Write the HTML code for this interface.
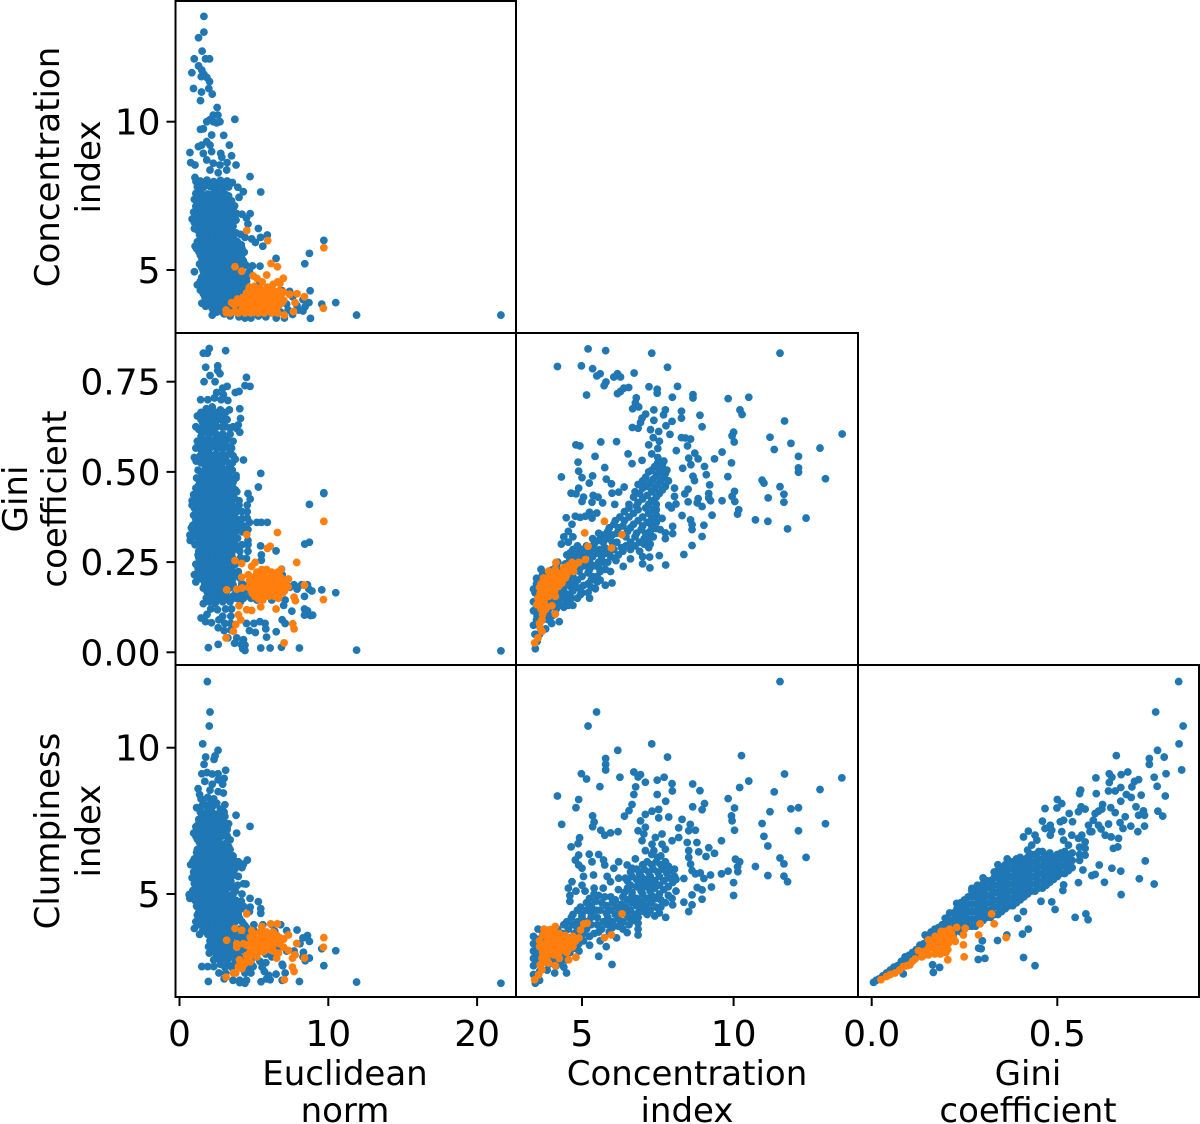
<!DOCTYPE html>
<html lang="en">
<head>
<meta charset="utf-8">
<title>Morphology index pair plot</title>
<style>
html,body{margin:0;padding:0;background:#fff;}
svg{display:block;}
text{font-family:"DejaVu Sans","Liberation Sans",sans-serif;fill:#000;}
.tick-text{font-size:36px;}
.title-text{font-size:34px;}
</style>
</head>
<body>
<svg id="chart" width="1200" height="1124" viewBox="0 0 1200 1124" xmlns="http://www.w3.org/2000/svg"></svg>
<script>
const euclidTicks=[0,10,20];
const concXTicks=[5,10];
const giniXTicks=[0,0.5];
const concYTicks=[5,10];
const giniYTicks=[0,0.25,0.5,0.75];
const clumpYTicks=[5,10];
const euclidTickLabels=["0","10","20"];
const concXTickLabels=["5","10"];
const giniXTickLabels=["0.0","0.5"];
const concYTickLabels=["5","10"];
const giniYTickLabels=["0.00","0.25","0.50","0.75"];
const clumpYTickLabels=["5","10"];

const euclidConcBlue=[[1.64,13.55],[1.64,13.02],[1.28,12.83],[1.52,12.38],[0.99,12.12],[1.75,12.12],[2.02,12.12],[1.28,11.88],[0.83,11.65],[1.5,11.74],[1.64,11.6],[1.84,11.49],[1.46,11.52],[2.02,11.35],[0.94,11.12],[1.48,11],[1.97,11.12],[2.2,10.93],[1.41,10.71],[2.53,10.48],[2.58,10.22],[2.27,10.22],[2.05,10.07],[1.83,10],[2.72,10],[2.27,10],[2.5,9.96],[3.72,10.08],[1.41,9.74],[1.6,9.76],[2.16,9.55],[2.97,9.54],[3.35,9.21],[0.7,8.96],[0.75,8.62],[1.27,9.16],[1.49,9.21],[1.83,9.33],[2.05,9.21],[1.6,8.93],[2.16,8.99],[2.77,8.93],[2.84,8.8],[3.5,8.85],[1.04,8.54],[1.83,8.71],[2.27,8.6],[2.72,8.54],[3.2,8.62],[3.8,8.54],[3.17,8.37],[2.05,8.37],[2.6,8.28],[4.74,8.15],[1.04,8.12],[1.11,7.98],[5.46,7.63],[3.92,7.79],[4.29,7.64],[4,7.45],
[1.4,8],[1.85,8.03],[2.3,7.98],[2.75,8.02],[3.2,8],[3.55,7.95],[1.2,7.8],[1.6,7.78],[2.05,7.82],[2.5,7.79],[2.95,7.77],[3.3,7.8],[1.1,7.58],[1.45,7.6],[1.9,7.56],[2.3,7.61],[2.7,7.58],[3.1,7.55],[1,7.38],[1.35,7.35],[1.8,7.4],[2.2,7.36],[2.65,7.38],[3.05,7.35],[3.5,7.33],[1.1,7.15],[1.55,7.18],[2,7.14],[2.45,7.17],[2.9,7.15],[3.3,7.12],[3.7,7.16],[0.95,6.95],[1.3,6.92],[1.75,6.96],[2.2,6.93],[2.65,6.95],[3.1,6.92],[3.5,6.95],[3.85,6.9],[4.2,6.88],[4.75,6.9],[4.5,6.75],[0.85,6.72],[1.15,6.7],[1.6,6.74],[2.05,6.7],[2.5,6.73],[2.95,6.7],[3.4,6.72],[3.8,6.68],[4.6,6.55],[1.25,6.5],[1.8,6.52],[2.25,6.48],[2.7,6.5],[3.15,6.52],[3.6,6.48],[1.2,6.35],[5.3,6.4],[1.55,6.28],[2,6.3],[2.45,6.27],[2.9,6.3],[3.35,6.28],[3.8,6.25],[4.1,6.2],[5.9,6.18],[4.4,6.1],[4.85,6.05],[5.1,5.93],[5.45,6.1],[5.6,5.8],[1.4,6.08],[1.85,6.06],[2.3,6.08],[2.75,6.05],[3.2,6.08],[3.65,6.05],[1.05,5.8],[1.5,5.85],[1.95,5.82],[2.4,5.86],[2.85,5.83],[3.3,5.85],[3.75,5.82],[4.15,5.85],[1.3,5.62],[1.75,5.6],[2.2,5.64],[2.65,5.6],[3.1,5.63],[3.55,5.6],[4,5.62],[4.35,5.6],[1.5,5.4],[1.95,5.42],[2.4,5.38],[2.85,5.41],[3.3,5.38],[3.75,5.42],[4.2,5.38],[6.49,5.39],[1.35,5.2],[1.75,5.18],[2.2,5.2],[2.65,5.17],[3.1,5.2],[3.55,5.18],[4,5.2],[4.45,5.17],[5.41,5.13],[4.9,5.14],[8.42,5.21],[1,4.94],[1.6,4.96],[2,4.98],[2.45,4.95],[2.9,4.97],[3.35,4.95],[3.8,4.98],[4.7,4.95],[1.5,4.75],[1.85,4.73],[2.25,4.76],[2.7,4.72],[3.15,4.75],[3.6,4.73],[4.05,4.75],[4.5,4.72],[1.2,4.5],[1.6,4.52],[2.05,4.5],[2.5,4.54],[2.95,4.5],[3.4,4.52],[3.85,4.5],[4.3,4.53],[5.4,4.55],[1.4,4.32],[1.85,4.3],[2.3,4.33],[2.75,4.3],[3.2,4.32],[3.65,4.3],[4.1,4.32],[6.9,4.3],[7.4,4.28],[8.78,4.3],[1.7,4.1],[2.1,4.12],[2.55,4.08],[3,4.1],[3.45,4.12],[3.9,4.08],[7.6,4.1],[8.3,4],[1.5,3.88],[1.95,3.9],[2.4,3.86],[2.85,3.9],[3.3,3.88],[3.75,3.85],[7.2,3.85],[7.9,3.8],[8.44,3.76],[8.7,3.9],[9.56,3.85],[10.5,3.9],[2.2,3.7],[2.65,3.68],[3.1,3.7],[6.5,3.7],[7.3,3.65],[8,3.65],[8.3,3.62],[2.2,3.48],[3,3.52],[3.4,3.45],[4,3.42],[4.4,3.38],[4.8,3.38],[5.3,3.45],[5.8,3.42],[6.5,3.38],[7.05,3.38],[7.6,3.5],[8.8,3.37],[11.9,3.48],[21.6,3.48],[9.7,6],[8.73,5.56],
[1.6,7.9],[2.05,7.9],[2.5,7.9],[2.95,7.9],[3.4,7.9],[1.25,7.5],[1.7,7.5],[2.1,7.5],[2.5,7.5],[2.9,7.5],[3.3,7.5],[1.2,7.25],[1.6,7.25],[2,7.25],[2.45,7.25],[2.85,7.25],[3.25,7.25],[1.15,7.05],[1.55,7.05],[1.95,7.05],[2.4,7.05],[2.8,7.05],[3.25,7.05],[3.6,7.05],[1.1,6.82],[1.5,6.82],[1.95,6.82],[2.4,6.82],[2.85,6.82],[3.3,6.82],[3.7,6.82],[1,6.6],[1.4,6.6],[1.85,6.6],[2.3,6.6],[2.75,6.6],[3.2,6.6],[3.6,6.6],[1,6.4],[1.5,6.4],[2,6.4],[2.5,6.4],[2.9,6.4],[3.4,6.4],[1.35,6.18],[1.75,6.18],[2.2,6.18],[2.65,6.18],[3.1,6.18],[3.55,6.18],[1.2,5.95],[1.65,5.95],[2.1,5.95],[2.55,5.95],[3,5.95],[3.45,5.95],[3.9,5.95],[1.15,5.72],[1.55,5.72],[2,5.72],[2.4,5.72],[2.85,5.72],[3.35,5.72],[3.8,5.72],[4.2,5.72],[1.4,5.5],[1.85,5.5],[2.3,5.5],[2.75,5.5],[3.2,5.5],[3.65,5.5],[4.1,5.5],[1.6,5.3],[2,5.3],[2.5,5.3],[2.95,5.3],[3.4,5.3],[3.85,5.3],[4.3,5.3],[1.5,5.08],[1.95,5.08],[2.4,5.08],[2.85,5.08],[3.3,5.08],[3.75,5.08],[4.2,5.08],[1.65,4.85],[2.1,4.85],[2.55,4.85],[3,4.85],[3.45,4.85],[3.9,4.85],[4.35,4.85],[1.4,4.62],[1.8,4.62],[2.25,4.62],[2.7,4.62],[3.15,4.62],[3.6,4.62],[4.05,4.62],[4.5,4.62],[1.55,4.4],[2,4.4],[2.45,4.4],[2.9,4.4],[3.35,4.4],[3.8,4.4],[4.2,4.4],[1.6,4.2],[2,4.2],[2.5,4.2],[2.95,4.2],[3.4,4.2],[3.85,4.2],[4.4,4.2],[4.8,4.2],[1.85,3.98],[2.3,3.98],[2.75,3.98],[3.2,3.98],[3.65,3.98],[4.1,3.98],[4.5,3.98],[1.75,3.78],[2.2,3.78],[2.65,3.78],[3.1,3.78],[3.55,3.78],[4,3.78],[2.5,3.58],[2.9,3.58],[3.35,3.58],[3.8,3.58],[4.2,3.58],[4.6,3.58],[5.2,3.58],[5.8,3.58],[6.2,3.58],[6.8,3.58]];
const euclidConcOrange=[[4.52,6.33],[5.93,5.99],[9.7,5.75],[6.15,5.22],[6.58,5.11],[3.73,5.11],[4.18,4.96],[8.4,4.1],[9.67,3.71],[7.77,3.9],[7.66,3.6],[7.05,3.48],[3.13,3.65],[3.15,3.56],[3.73,3.6],[6.98,4.72],[5.86,4.83],[4.95,4.8],[5.2,4.72],[5.55,4.6],[6.6,4.6],[6.3,4.52],[4.7,4.42],[5.05,4.45],[5.4,4.38],[5.9,4.42],[4.5,4.22],[4.9,4.2],[5.3,4.25],[5.7,4.18],[6.1,4.22],[6.5,4.2],[7,4.25],[7.4,4.18],[7.9,4.2],[3.9,4.02],[4.25,4.05],[4.6,4],[5,4.03],[5.4,3.98],[5.8,4.02],[6.2,4],[6.6,4.04],[7,3.98],[3.7,3.82],[4.3,3.84],[4.7,3.8],[5.1,3.84],[5.5,3.8],[5.9,3.84],[6.3,3.8],[6.7,3.82],[4.2,3.68],[4.6,3.65],[5.1,3.62],[5.5,3.66],[5.9,3.62],[6.4,3.65],
[4.7,4.3],[5.1,4.3],[5.5,4.3],[5.9,4.3],[6.3,4.3],[6.7,4.3],[4.4,4.1],[4.8,4.1],[5.2,4.1],[5.6,4.1],[6,4.1],[6.4,4.1],[6.8,4.1],[4,3.9],[4.45,3.9],[4.9,3.9],[5.3,3.9],[5.7,3.9],[6.1,3.9],[6.5,3.9],[6.9,3.9],[3.5,3.9],[4.5,3.72],[4.9,3.72],[5.3,3.72],[5.7,3.72],[6.1,3.72],[6.5,3.72],[3.4,3.55],[3.95,3.55],[4.4,3.55],[4.8,3.55],[5.3,3.55],[5.7,3.55],[6.2,3.55],[6.6,3.55],[6.75,4.55]];

const euclidGiniBlue=[[2,0.842],[1.6,0.829],[1.87,0.829],[3.1,0.836],[1.76,0.79],[2.57,0.794],[2.57,0.781],[2.72,0.772],[2.05,0.767],[2.39,0.75],[1.65,0.75],[4.5,0.762],[4.4,0.739],[4.74,0.737],[3.2,0.737],[2.9,0.732],[2.5,0.72],[2.95,0.714],[3.75,0.72],[4,0.723],[1.42,0.7],[1.9,0.7],[2.35,0.705],[2.8,0.7],[3.25,0.698],[2.2,0.68],[1.8,0.675],[2.75,0.672],[4.05,0.675],[3.35,0.672],[3.1,0.665],[1.2,0.655],[1.7,0.655],[2.15,0.652],[2.6,0.656],[3,0.645],[4.1,0.648],[3.95,0.63],[1.55,0.637],[1.95,0.634],[2.4,0.636],[2.85,0.625],[1.3,0.618],[3.4,0.622],[3.85,0.62],[4.05,0.61],[1.75,0.614],[2.2,0.612],[2.65,0.6],[1.45,0.598],[1.95,0.594],[2.4,0.59],[3.2,0.59],[3.6,0.585],[1.35,0.578],[1.8,0.574],[2.25,0.572],[2.7,0.568],[3.25,0.57],[1.5,0.558],[1.95,0.554],[2.45,0.55],[2.9,0.55],[3.4,0.555],[1.7,0.536],[2.2,0.534],[2.65,0.53],[3.1,0.535],[1,0.54],[1.12,0.53],[2.5,0.51],[3.75,0.535],[4.3,0.533],[1.75,0.515],[2.1,0.512],[2.9,0.51],[3.3,0.508],[1.5,0.495],[1.95,0.49],[2.4,0.492],[2.85,0.49],[3.3,0.49],[3.8,0.49],[5.46,0.496],[1.35,0.475],[1.8,0.472],[2.25,0.47],[2.7,0.472],[3.15,0.47],[3.6,0.472],[1.1,0.455],[1.5,0.454],[1.95,0.452],[2.4,0.455],[2.85,0.452],[3.3,0.455],[3.75,0.45],[5.3,0.458],[0.95,0.437],[1.35,0.436],[1.8,0.434],[2.25,0.436],[2.7,0.434],[3.15,0.436],[3.6,0.434],[4.6,0.44],[4.75,0.425],[0.85,0.42],[1.2,0.418],[1.65,0.416],[2.1,0.418],[2.55,0.415],[3,0.418],[3.45,0.415],[4,0.42],[9.7,0.44],[1,0.4],[1.5,0.398],[1.95,0.4],[2.4,0.397],[2.85,0.4],[3.3,0.397],[3.75,0.398],[4.55,0.408],[4.55,0.39],[8.73,0.41],[0.95,0.38],[1.35,0.38],[1.8,0.378],[2.25,0.38],[2.7,0.378],[3.15,0.38],[3.6,0.378],[4.55,0.372],[1.1,0.362],[1.55,0.36],[2,0.362],[2.45,0.36],[2.9,0.362],[3.35,0.358],[3.8,0.36],[4.7,0.36],[4.3,0.35],[0.8,0.345],[1.3,0.342],[1.75,0.344],[2.2,0.342],[2.65,0.344],[3.1,0.342],[3.55,0.342],[4.05,0.345],[4.6,0.34],[5.2,0.36],[5.5,0.36],[5.9,0.36],[0.7,0.325],[1.1,0.325],[1.5,0.325],[1.95,0.324],[2.4,0.326],[2.85,0.324],[3.3,0.326],[3.75,0.322],[0.72,0.31],[1.3,0.306],[1.75,0.306],[2.2,0.308],[2.65,0.306],[3.1,0.308],[3.6,0.305],[4.6,0.31],[1.5,0.288],[1.95,0.29],[2.4,0.288],[2.85,0.29],[3.3,0.288],[3.75,0.288],[4.6,0.298],[8.42,0.3],[8.73,0.305],[1.25,0.27],[1.7,0.27],[2.15,0.272],[2.6,0.27],[3.05,0.27],[3.5,0.272],[4.6,0.28],[5.45,0.295],[5.5,0.27],[6.49,0.281],[1.5,0.252],[1.95,0.252],[2.4,0.25],[2.85,0.252],[3.3,0.25],[4.5,0.26],[5.5,0.255],[1.25,0.234],[1.7,0.234],[2.15,0.232],[2.6,0.234],[3.05,0.232],[3.5,0.232],[6.85,0.23],[1,0.215],[1.45,0.215],[1.9,0.214],[2.35,0.216],[2.8,0.214],[3.25,0.214],[3.7,0.215],[6.9,0.215],[1.1,0.195],[1.65,0.197],[2.1,0.196],[2.55,0.197],[3,0.196],[3.5,0.196],[4.2,0.19],[1.6,0.178],[2,0.178],[2.45,0.178],[2.9,0.177],[3.35,0.178],[4,0.175],[7.4,0.18],[7.9,0.175],[8.7,0.175],[8.9,0.17],[9.56,0.173],[10.5,0.165],[8.4,0.155],[2.05,0.16],[2.5,0.16],[3.05,0.158],[3.6,0.156],[4.1,0.158],[4.7,0.155],[5.2,0.155],[5.7,0.155],[6.6,0.165],[6.2,0.145],[7.1,0.145],[1.6,0.135],[2,0.14],[2.4,0.136],[2.9,0.14],[3.4,0.14],[4.1,0.14],[5.2,0.145],[7,0.13],[2.1,0.12],[2.55,0.118],[3.1,0.12],[3.5,0.12],[7.55,0.114],[8.4,0.12],[8.6,0.115],[1.45,0.095],[1.85,0.105],[2.9,0.1],[3.45,0.1],[8.4,0.103],[8.8,0.102],[8.95,0.103],[1.75,0.085],[2.15,0.082],[2.65,0.09],[3.05,0.08],[3.45,0.08],[4.5,0.08],[5,0.08],[5.4,0.085],[5.75,0.08],[6.9,0.09],[7.1,0.08],[2.6,0.068],[3,0.06],[3.45,0.062],[4.7,0.06],[5.1,0.055],[5.8,0.065],[6.5,0.057],[3.25,0.04],[3.85,0.04],[4.3,0.035],[5.85,0.042],[2.6,0.022],[3.7,0.025],[4.15,0.022],[4.4,0.02],[1.94,0.013],[4.25,0.01],[4.4,0.005],[5.46,0.012],[6.09,0.012],[6.85,0.014],[8.06,0.012],[11.9,0.006],[21.6,0.004],[9.7,0.442],
[1.45,0.665],[1.95,0.665],[2.4,0.665],[2.85,0.665],[1.45,0.645],[1.9,0.645],[2.35,0.645],[2.8,0.645],[3.2,0.645],[1.1,0.625],[1.6,0.625],[2.05,0.625],[2.5,0.625],[3.1,0.625],[3.6,0.625],[1.5,0.605],[2,0.605],[2.45,0.605],[2.9,0.605],[3.4,0.605],[1.2,0.585],[1.65,0.585],[2.15,0.585],[2.6,0.585],[3,0.585],[1.1,0.566],[1.6,0.566],[2.05,0.566],[2.5,0.566],[2.95,0.566],[3.5,0.566],[1.4,0.545],[1.85,0.545],[2.3,0.545],[2.7,0.545],[3.15,0.545],[3.6,0.545],[1.45,0.525],[1.95,0.525],[2.4,0.525],[2.85,0.525],[3.3,0.525],[3.55,0.525],[1.25,0.505],[1.7,0.505],[2.15,0.505],[2.65,0.505],[3.1,0.505],[3.55,0.505],[1.15,0.483],[1.6,0.483],[2.05,0.483],[2.5,0.483],[2.95,0.483],[3.4,0.483],[3.8,0.483],[1.3,0.463],[1.75,0.463],[2.2,0.463],[2.65,0.463],[3.1,0.463],[3.55,0.463],[1.15,0.445],[1.55,0.445],[2,0.445],[2.5,0.445],[2.95,0.445],[3.4,0.445],[3.85,0.445],[1.05,0.426],[1.45,0.426],[1.9,0.426],[2.35,0.426],[2.8,0.426],[3.25,0.426],[3.7,0.426],[0.85,0.408],[1.3,0.408],[1.75,0.408],[2.2,0.408],[2.65,0.408],[3.1,0.408],[3.55,0.408],[4,0.408],[1.15,0.39],[1.6,0.39],[2.05,0.39],[2.5,0.39],[2.95,0.39],[3.4,0.39],[3.85,0.39],[4.2,0.39],[1.1,0.37],[1.55,0.37],[2,0.37],[2.45,0.37],[2.9,0.37],[3.35,0.37],[3.8,0.37],[4.2,0.37],[0.9,0.352],[1.35,0.352],[1.8,0.352],[2.25,0.352],[2.7,0.352],[3.15,0.352],[3.6,0.352],[4.05,0.352],[1.05,0.334],[1.5,0.334],[1.95,0.334],[2.4,0.334],[2.85,0.334],[3.3,0.334],[3.75,0.334],[4.2,0.334],[0.75,0.316],[1.2,0.316],[1.65,0.316],[2.1,0.316],[2.55,0.316],[3,0.316],[3.45,0.316],[3.9,0.316],[1.05,0.298],[1.5,0.298],[1.95,0.298],[2.4,0.298],[2.85,0.298],[3.3,0.298],[3.75,0.298],[4.2,0.298],[1.3,0.28],[1.75,0.28],[2.2,0.28],[2.65,0.28],[3.1,0.28],[3.55,0.28],[4.05,0.28],[1.3,0.262],[1.75,0.262],[2.2,0.262],[2.6,0.262],[3.1,0.262],[3.55,0.262],[4.1,0.262],[1.1,0.244],[1.5,0.244],[1.95,0.244],[2.4,0.244],[2.85,0.244],[3.3,0.244],[3.75,0.244],[1.25,0.224],[1.7,0.224],[2.1,0.224],[2.55,0.224],[3,0.224],[3.45,0.224],[3.95,0.224],[1.35,0.205],[1.8,0.205],[2.25,0.205],[2.7,0.205],[3.15,0.205],[3.6,0.205],[4.1,0.205],[1.7,0.187],[2.2,0.187],[2.65,0.187],[3.1,0.187],[3.6,0.187],[4.2,0.187],[4.6,0.187],[5.1,0.187],[5.6,0.187],[6.1,0.187],[6.6,0.187],[7.2,0.187],[7.7,0.187],[8.2,0.187],[8.6,0.187],[1.85,0.168],[2.25,0.168],[2.7,0.168],[3.15,0.168],[3.8,0.168],[4.3,0.168],[4.8,0.168],[5.3,0.168],[1.8,0.15],[2.3,0.15],[2.75,0.15],[3.3,0.15],[3.8,0.15],[4.3,0.15],[4.8,0.15]];
const euclidGiniOrange=[[4.52,0.326],[6.58,0.332],[9.7,0.363],[6.09,0.294],[5.91,0.288],[7.88,0.249],[3.73,0.254],[4.18,0.246],[5.08,0.249],[4.85,0.238],[5.86,0.229],[5.53,0.229],[6.83,0.229],[4.18,0.208],[4.63,0.215],[8.4,0.186],[7.32,0.203],[3.17,0.173],[3.85,0.175],[4.2,0.178],[7.7,0.153],[7.79,0.143],[9.67,0.146],[6.65,0.15],[5.46,0.126],[6.49,0.12],[4,0.129],[4.52,0.118],[4.85,0.116],[3.96,0.104],[4.12,0.09],[3.78,0.077],[3.62,0.058],[3.13,0.04],[7.61,0.079],[7.7,0.065],[7.03,0.026],[5.1,0.21],[5.6,0.212],[6.1,0.208],[6.7,0.212],[4.7,0.198],[5.15,0.195],[5.6,0.197],[6.05,0.195],[6.5,0.197],[6.95,0.195],[4.65,0.18],[5.05,0.178],[5.5,0.181],[5.95,0.178],[6.4,0.18],[6.85,0.178],[7.3,0.181],[4.9,0.163],[5.3,0.165],[5.7,0.163],[6.5,0.163],[6.95,0.165],[5.3,0.148],[5.6,0.145],
[4.9,0.205],[5.35,0.205],[5.85,0.205],[6.35,0.205],[6.85,0.205],[4.85,0.19],[5.3,0.19],[5.75,0.19],[6.2,0.19],[6.65,0.19],[7.1,0.19],[4.85,0.17],[5.25,0.17],[5.7,0.17],[6.15,0.17],[6.6,0.17],[7.05,0.17],[5.05,0.155],[5.5,0.155],[6,0.155],[6.4,0.155],[5.2,0.222],[5.7,0.222],[6.2,0.222],[6.6,0.222]];

const concGiniBlue=[[5.2,0.841],[5.78,0.836],[7.3,0.829],[11.53,0.829],[4.19,0.792],[4.98,0.794],[5.35,0.786],[7.82,0.79],[5.6,0.772],[5.49,0.766],[6.17,0.772],[6.05,0.763],[6.27,0.763],[6.72,0.774],[5.79,0.749],[5.73,0.739],[7.21,0.736],[8.15,0.737],[7.48,0.729],[7.48,0.718],[6.54,0.734],[6.38,0.732],[6.27,0.723],[6.17,0.717],[5.15,0.713],[7.98,0.707],[8.66,0.714],[8.66,0.705],[9.82,0.703],[10.5,0.707],[6.79,0.705],[6.76,0.691],[6.87,0.68],[6.67,0.675],[7.37,0.672],[7.75,0.672],[8.28,0.668],[10.21,0.672],[10.28,0.659],[8.89,0.657],[7.69,0.658],[8.28,0.649],[7.1,0.66],[6.98,0.649],[6.93,0.637],[7.37,0.643],[7.97,0.64],[7.77,0.628],[11.68,0.641],[8.96,0.625],[6.66,0.623],[6.85,0.621],[7.26,0.617],[7.53,0.612],[7.9,0.604],[10,0.61],[9.95,0.6],[13.58,0.605],[11.2,0.596],[8.28,0.595],[8.41,0.594],[8.58,0.591],[10.02,0.583],[5.62,0.583],[6.14,0.584],[4.8,0.575],[4.93,0.572],[11.89,0.579],[12.85,0.566],[11.34,0.562],[9.62,0.555],[8.48,0.572],[8.72,0.552],[8.11,0.559],[6.52,0.55],[5.43,0.543],[12.14,0.543],[9.37,0.536],[8.83,0.536],[9.93,0.525],[4.87,0.527],[6.65,0.523],[6.98,0.532],[8.52,0.538],[9.04,0.515],[8.59,0.52],[8.32,0.51],[5.75,0.512],[12.14,0.511],[12.14,0.499],[4.89,0.502],[9.1,0.492],[9.81,0.487],[4.32,0.486],[5,0.484],[5.35,0.489],[8.66,0.488],[13.03,0.481],[10.94,0.477],[11,0.469],[5.8,0.48],[5.24,0.469],[5.97,0.467],[8.71,0.476],[9.21,0.464],[11.53,0.459],[4.89,0.455],[6.39,0.458],[6.21,0.444],[8.05,0.455],[8.5,0.452],[10.03,0.446],[9.95,0.432],[11.66,0.438],[4.64,0.441],[4.8,0.439],[5.99,0.441],[8.39,0.439],[8.05,0.432],[9.18,0.44],[9.18,0.428],[11.14,0.428],[5.05,0.43],[5.37,0.435],[5.53,0.43],[8.83,0.426],[8.5,0.417],[9.62,0.42],[9.24,0.42],[10.04,0.418],[11.66,0.416],[5,0.418],[5.33,0.416],[5.68,0.414],[6.08,0.41],[8.8,0.414],[8.1,0.411],[7.86,0.407],[7.95,0.4],[8.96,0.404],[10.17,0.395],[10.13,0.383],[9.29,0.38],[12.39,0.372],[10.72,0.367],[11.13,0.363],[8.3,0.379],[7.64,0.371],[8.58,0.367],[4.48,0.373],[4.78,0.377],[4.94,0.374],[5.11,0.377],[5.33,0.372],[5.49,0.386],[5.25,0.388],[4.67,0.355],[9.02,0.352],[8.63,0.354],[8.63,0.34],[11.78,0.342],[7.99,0.349],[7.44,0.343],[7.58,0.34],[7.75,0.331],[7.99,0.329],[8.96,0.321],[7.75,0.315],[8.63,0.296],[8.36,0.271],[7.55,0.268],[7.23,0.264],[7,0.245],[7.24,0.234],[7.76,0.242],[6.6,0.259],[6.36,0.238],[6.12,0.254],[5.99,0.192],[5.77,0.23],[5.94,0.224],[5.6,0.224],[5.6,0.2],[5.77,0.186],[5.44,0.176],[5.25,0.15],[4.95,0.16],
[3.46,0.01],[3.52,0.03],[3.45,0.05],[3.6,0.05],[3.4,0.075],[3.6,0.08],[3.8,0.065],[4,0.08],[3.52,0.1],[3.75,0.1],[4,0.1],[4.25,0.085],[3.4,0.115],[3.6,0.125],[3.9,0.12],[4.15,0.12],[4.4,0.125],[3.4,0.14],[3.65,0.145],[3.9,0.14],[4.2,0.14],[4.5,0.14],[4.7,0.13],[3.45,0.165],[3.7,0.165],[4,0.16],[4.3,0.16],[4.55,0.16],[4.85,0.15],[3.4,0.175],[3.5,0.19],[3.85,0.185],[4.1,0.18],[4.4,0.18],[4.65,0.18],[4.9,0.178],[5.2,0.165],[3.5,0.205],[3.7,0.215],[4,0.205],[4.3,0.2],[4.55,0.2],[4.85,0.2],[5.2,0.19],[5.3,0.2],[3.65,0.23],[4,0.228],[4.3,0.225],[4.6,0.225],[4.9,0.225],[5.2,0.22],[5.5,0.21],[4.2,0.25],[4.45,0.245],[4.8,0.24],[5.1,0.24],[5.4,0.24],[5.7,0.25],[4.5,0.27],[4.75,0.265],[5.05,0.265],[5.35,0.265],[5.65,0.265],[5.95,0.265],[4.7,0.285],[5,0.285],[5.3,0.285],[5.6,0.285],[5.9,0.28],[6.2,0.27],[4.32,0.3],[4.55,0.305],[5.4,0.3],[5.7,0.305],[6,0.305],[6.3,0.29],[6.6,0.285],[6.9,0.28],[7,0.265],[4.4,0.32],[4.7,0.32],[4.55,0.335],[5.35,0.315],[5.7,0.325],[6,0.325],[6.6,0.305],[6.9,0.305],[7.2,0.29],[7.2,0.315],[7.25,0.3],[5.9,0.345],[6.2,0.345],[6.5,0.335],[6.8,0.33],[7.1,0.33],[6.1,0.365],[6.4,0.365],[6.7,0.355],[7,0.35],[7.3,0.35],[6.4,0.39],[6.7,0.385],[7,0.375],[7.3,0.37],[6.55,0.41],[6.8,0.405],[7.1,0.4],[7.35,0.395],[6.7,0.43],[7,0.425],[7.3,0.42],[7.45,0.41],[6.75,0.445],[7,0.455],[7.3,0.445],[7.55,0.44],[7,0.475],[7.25,0.47],[7.5,0.465],[7.75,0.46],[7.2,0.5],[7.45,0.49],[7.7,0.485],[7.85,0.475],[7.4,0.515],[7.6,0.51],[7.8,0.505],[7.5,0.54],[7.7,0.53],[7.3,0.55],[7.5,0.565],[7.2,0.575],[7.35,0.595],[7.55,0.585],
[3.5,0.09],[3.7,0.09],[3.9,0.09],[3.6,0.11],[3.85,0.11],[4.1,0.105],[3.5,0.125],[3.75,0.13],[4.05,0.13],[4.3,0.13],[4.55,0.13],[3.55,0.155],[3.8,0.155],[4.1,0.15],[4.4,0.15],[4.65,0.15],[3.55,0.18],[3.85,0.17],[4.15,0.17],[4.4,0.17],[4.7,0.17],[5,0.165],[3.6,0.2],[3.9,0.195],[4.2,0.19],[4.5,0.19],[4.75,0.19],[5.05,0.185],[5.3,0.18],[3.85,0.22],[4.15,0.21],[4.4,0.215],[4.7,0.21],[5,0.21],[5.35,0.21],[5.5,0.195],[4.15,0.24],[4.6,0.24],[4.95,0.235],[5.25,0.23],[5.55,0.235],[4.6,0.255],[4.95,0.255],[5.25,0.25],[5.55,0.25],[5.85,0.25],[4.6,0.275],[4.9,0.275],[5.2,0.275],[5.5,0.275],[5.8,0.275],[6.1,0.26],[4.85,0.295],[5.15,0.295],[5.45,0.285],[5.75,0.29],[6.05,0.285],[6.35,0.28],[5.55,0.31],[5.85,0.315],[6.15,0.305],[6.45,0.295],[6.75,0.295],[7.05,0.3],[5.55,0.33],[5.85,0.335],[6.15,0.33],[6.45,0.32],[6.75,0.32],[7.05,0.315],[7.35,0.32],[6.05,0.355],[6.35,0.35],[6.6,0.345],[6.95,0.34],[7.25,0.335],[6.25,0.375],[6.55,0.375],[6.85,0.365],[7.15,0.36],[7.45,0.36],[6.55,0.4],[6.85,0.395],[7.2,0.385],[7.45,0.38],[6.85,0.415],[7.2,0.41],[7.45,0.395],[6.9,0.44],[7.15,0.435],[7.45,0.43],[6.85,0.465],[7.15,0.46],[7.4,0.455],[7.65,0.45],[7.1,0.485],[7.35,0.48],[7.6,0.475],[7.3,0.505],[7.55,0.5],[7.75,0.495],[7.5,0.525],[7.65,0.52]];
const concGiniOrange=[[5.74,0.363],[5.09,0.331],[6.32,0.326],[5.2,0.294],[5.97,0.289],[4.14,0.249],[5.11,0.257],[4.89,0.249],[4.67,0.249],[4.12,0.229],[4.72,0.224],[4.61,0.229],[3.73,0.206],[4.17,0.201],[4.45,0.206],[4.01,0.197],[3.79,0.183],[4.23,0.183],[4.01,0.174],[3.62,0.164],[3.84,0.16],[4.12,0.155],[3.62,0.137],[3.51,0.132],[3.79,0.118],[4.01,0.129],[4.12,0.106],[3.68,0.09],[3.62,0.067],[3.68,0.058],[3.55,0.04],[3.44,0.026],[4.34,0.192],[4.5,0.215],[4.34,0.22],[3.6,0.18],[3.8,0.205],[4,0.215],[4.3,0.21],[3.55,0.15],[3.75,0.14],[3.9,0.17],[3.75,0.175],[3.65,0.12],
[3.65,0.19],[3.85,0.19],[4.1,0.19],[3.7,0.165],[3.9,0.155],[3.65,0.155],[4.1,0.17],[3.9,0.225],[4.2,0.22],[4.4,0.235],[4.55,0.24],[4.75,0.24],[3.6,0.145],[3.85,0.125],[3.7,0.105],[3.6,0.08]];

const euclidClumpBlue=[[1.87,12.26],[2.05,11.22],[2,10.74],[1.56,10.13],[2.59,9.91],[1.76,9.68],[2.39,9.72],[2.32,9.6],[1.65,9.43],[3.1,9.23],[2.59,9.11],[1.5,9.11],[1.85,9.15],[2.2,9.1],[3,8.95],[2.6,8.9],[1.7,8.85],[2.2,8.75],[2.9,8.75],[1.25,8.6],[2.05,8.55],[1.35,8.4],[2.6,8.5],[2.95,8.45],[1.45,8.25],[1.9,8.3],[2.3,8.25],[1.15,7.95],[1.5,8],[1.9,8],[2.3,8.03],[2.75,7.9],[3.05,8.05],[1.4,7.8],[1.8,7.78],[2.2,7.8],[2.65,7.75],[3,7.8],[3.8,7.69],[1.3,7.55],[1.65,7.58],[2.05,7.55],[2.5,7.55],[2.95,7.5],[3.3,7.4],[1.1,7.3],[1.4,7.3],[1.85,7.32],[2.3,7.3],[2.75,7.3],[3.2,7.3],[4.74,7.31],[0.95,7.08],[1.3,7.1],[1.75,7.08],[2.2,7.1],[2.65,7.06],[3.1,7.1],[3.84,7.08],[1.2,6.87],[1.6,6.87],[2.05,6.85],[2.55,6.87],[3.4,6.85],[1.5,6.63],[1.9,6.65],[2.3,6.62],[2.95,6.66],[3.3,6.62],[1.15,6.42],[1.5,6.42],[1.95,6.42],[2.4,6.45],[2.85,6.4],[3.3,6.42],[3.6,6.3],[1,6.2],[1.4,6.2],[1.85,6.2],[2.3,6.2],[2.75,6.22],[3.2,6.2],[3.6,6.15],[3.95,6.1],[4.3,6.02],[4.56,6.16],[0.75,6],[1.1,6],[1.55,5.98],[2,6],[2.45,5.98],[2.9,6],[3.35,6],[3.8,5.95],[4.2,5.9],[0.95,5.75],[1.3,5.78],[1.75,5.75],[2.2,5.78],[2.65,5.75],[3.1,5.78],[3.55,5.75],[0.85,5.55],[1.2,5.55],[1.65,5.53],[2.1,5.55],[2.55,5.53],[3,5.55],[3.4,5.5],[3.95,5.6],[4.47,5.34],[4.3,5.35],[1,5.35],[1.4,5.32],[1.85,5.32],[2.3,5.35],[2.75,5.32],[3.2,5.35],[3.9,5.3],[0.9,5.12],[1.3,5.12],[1.75,5.1],[2.2,5.12],[2.65,5.1],[3.05,5.1],[3.75,5.1],[0.65,4.98],[0.7,4.85],[1.1,4.9],[1.55,4.9],[2,4.9],[2.45,4.92],[2.9,4.88],[3.4,4.95],[4.2,5],[4.74,4.85],[5.3,4.74],[1.3,4.68],[1.75,4.68],[2.2,4.7],[2.65,4.68],[3.1,4.7],[3.6,4.7],[4.15,4.75],[4.75,4.55],[1.4,4.48],[1.95,4.46],[2.4,4.48],[2.85,4.46],[3.3,4.48],[3.75,4.46],[4.15,4.5],[4.7,4.4],[5.46,4.5],[5.46,4.34],[1.2,4.28],[1.65,4.27],[2.15,4.26],[2.6,4.27],[3.05,4.25],[3.5,4.27],[3.95,4.27],[1.1,4.05],[1.5,4.07],[1.95,4.05],[2.4,4.06],[2.85,4.05],[3.3,4.06],[3.75,4.05],[4.2,4.05],[1,3.82],[1.7,3.85],[2.15,3.84],[2.6,3.85],[3.05,3.84],[3.5,3.85],[4,3.8],[4.5,3.85],[5,3.75],[1.35,3.62],[1.9,3.62],[2.35,3.6],[2.8,3.62],[3.25,3.6],[3.7,3.6],[4.15,3.55],[7.9,3.77],[7.2,3.75],[8.6,3.58],[8.3,3.5],[2.05,3.4],[2.5,3.38],[2.95,3.4],[3.4,3.38],[3.9,3.35],[4.4,3.3],[8.73,3.38],[8.1,3.3],[1.95,3.2],[2.25,3.18],[2.7,3.18],[3.15,3.17],[3.6,3.15],[4.1,3.1],[6.6,3.1],[7.2,3.05],[7.7,3.05],[8.33,3.01],[9.56,3.13],[10.5,3.06],[2,2.98],[2.45,2.96],[2.9,2.96],[3.35,2.95],[3.8,2.95],[4.6,2.9],[5.1,2.85],[5.8,2.95],[6.2,2.85],[8.73,2.81],[8.45,2.72],[8.3,2.85],[2.3,2.75],[2.75,2.74],[3.2,2.73],[3.75,2.7],[4.3,2.72],[4.8,2.65],[5.4,2.7],[5.8,2.65],[6.9,2.6],[1.5,2.52],[1.9,2.52],[2.3,2.52],[3.05,2.5],[3.5,2.5],[4.6,2.5],[4.95,2.52],[5.55,2.5],[6.94,2.55],[9.7,2.55],[2.65,2.3],[3.1,2.3],[4.4,2.3],[4.8,2.3],[5.7,2.35],[6,2.22],[6.49,2.26],[7.1,2.3],[3,2.1],[3.6,2.05],[4.05,2.05],[4.5,2.05],[5.85,2.1],[6.09,2.07],[1.94,2.01],[4.05,1.97],[4.4,1.95],[5.48,2],[6.9,2.05],[8.06,2.01],[11.9,1.99],[21.6,1.95],
[1.6,8.1],[2.1,8.1],[2.5,8.1],[1.5,7.65],[1.9,7.65],[2.3,7.65],[2.7,7.65],[3.05,7.65],[1.3,7.42],[1.7,7.42],[2.1,7.42],[2.5,7.42],[2.9,7.42],[1.15,7.2],[1.55,7.2],[2,7.2],[2.45,7.2],[2.9,7.2],[3.2,7.2],[1.1,6.98],[1.5,6.98],[1.95,6.98],[2.4,6.98],[2.85,6.98],[3.2,6.98],[1.35,6.75],[1.8,6.75],[2.2,6.75],[2.7,6.75],[3.15,6.75],[1.2,6.52],[1.7,6.52],[2.1,6.52],[2.6,6.52],[3.05,6.52],[3.4,6.52],[1.2,6.3],[1.65,6.3],[2.1,6.3],[2.5,6.3],[3,6.3],[3.4,6.3],[0.9,6.1],[1.25,6.1],[1.7,6.1],[2.15,6.1],[2.6,6.1],[3.05,6.1],[3.45,6.1],[3.85,6.1],[1.1,5.87],[1.5,5.87],[2,5.87],[2.4,5.87],[2.85,5.87],[3.3,5.87],[3.75,5.87],[1,5.65],[1.45,5.65],[1.9,5.65],[2.35,5.65],[2.8,5.65],[3.25,5.65],[3.7,5.65],[1.2,5.43],[1.65,5.43],[2.1,5.43],[2.55,5.43],[3,5.43],[3.45,5.43],[1.1,5.23],[1.55,5.23],[2,5.23],[2.45,5.23],[2.9,5.23],[3.35,5.23],[3.7,5.23],[0.85,5],[1.3,5],[1.75,5],[2.2,5],[2.65,5],[3.15,5],[3.6,5],[1.05,4.78],[1.5,4.78],[2,4.78],[2.45,4.78],[2.9,4.78],[3.35,4.78],[3.8,4.78],[1.15,4.58],[1.55,4.58],[2,4.58],[2.45,4.58],[2.85,4.58],[3.35,4.58],[3.8,4.58],[4.3,4.58],[1.3,4.37],[1.7,4.37],[2.15,4.37],[2.6,4.37],[3.05,4.37],[3.5,4.37],[3.95,4.37],[1.25,4.16],[1.75,4.16],[2.2,4.16],[2.65,4.16],[3.1,4.16],[3.55,4.16],[4.05,4.16],[1.3,3.95],[1.75,3.95],[2.2,3.95],[2.65,3.95],[3.1,3.95],[3.55,3.95],[4.35,3.95],[5,3.95],[5.6,3.95],[6.2,3.95],[6.8,3.95],[1.55,3.73],[1.95,3.73],[2.4,3.73],[2.85,3.73],[3.3,3.73],[3.75,3.73],[4.55,3.73],[5.5,3.73],[6.4,3.73],[2.15,3.5],[2.6,3.5],[3,3.5],[3.45,3.5],[3.95,3.5],[4.5,3.5],[2.2,3.28],[2.6,3.28],[3.05,3.28],[3.5,3.28],[4,3.28],[2.25,3.07],[2.65,3.07],[3.1,3.07],[3.55,3.07],[4.05,3.07],[4.4,3.07],[2.6,2.85],[3.05,2.85],[3.5,2.85],[4,2.85],[4.4,2.85],[2.75,2.6],[3.25,2.6],[3.7,2.6],[4.3,2.6]];
const euclidClumpOrange=[[4.52,4.32],[6.13,3.98],[6.58,3.98],[5.53,3.89],[3.73,3.82],[4.18,3.76],[9.7,3.51],[9.67,3.18],[3.17,3.42],[7.88,3.31],[7.32,3.6],[7.77,2.92],[7.59,2.81],[8.4,2.81],[7.59,2.5],[7.7,2.35],[7.05,2.07],[3.13,2.16],[3.62,2.3],[3.78,2.3],[4.03,2.75],[3.96,2.52],[6.53,2.81],[6.65,2.98],[4.2,2.45],[4.75,2.68],[5.2,2.85],[4.75,3.03],[5.65,3.03],[6.1,3.13],[4.75,3.3],[5.2,3.3],[5.65,3.36],[6.1,3.36],[6.55,3.42],[4.75,3.52],[5.2,3.46],[5.65,3.52],[6.1,3.58],[6.55,3.58],[7,3.46],[7,3.18],[7.32,3.07],[3.85,3.3],[3.85,3.18],[4.3,3.3],[4.85,3.75],[5.1,3.15],[5.4,3.2],[5.9,3.25],[6.3,3.25],[6.75,3.3],[4.5,2.9],
[5,3.1],[5.45,3.05],[5.85,3.1],[6.3,3.05],[5,3.45],[5.4,3.45],[5.85,3.5],[6.3,3.5],[6.75,3.5],[4.95,3.65],[5.4,3.7],[5.85,3.7],[6.3,3.7],[4.7,2.85],[5.1,3],[4.35,2.6],[4.5,2.7],[5.25,3.2],[4.5,3.25],[5.45,3.35]];

const concClumpBlue=[[11.53,12.26],[5.48,11.22],[5.2,10.74],[7.3,10.13],[6.18,9.91],[7.82,9.68],[10.26,9.73],[5.78,9.63],[5.78,9.43],[5.78,9.24],[4.98,9.11],[5.15,8.93],[6.25,8.99],[6.71,9.17],[6.93,9.08],[6.85,9],[7.09,8.82],[7.48,8.89],[7.71,8.99],[7.97,8.77],[7.98,8.52],[11.68,9.1],[13.57,8.97],[10.5,8.86],[10.2,8.64],[8.65,8.76],[8.89,8.53],[6.77,8.66],[5.59,8.67],[6.71,8.4],[7.48,8.4],[4.19,8.35],[11.34,8.49],[12.85,8.57],[9.82,8.26],[4.89,8.23],[4.8,7.95],[7.76,8.17],[9.04,8.09],[8.96,7.88],[8.65,7.98],[10.03,7.94],[11.2,7.81],[11.89,7.91],[12.14,7.95],[6.65,8.06],[6.55,7.85],[6.4,7.66],[5.35,7.67],[5.4,7.46],[5.35,7.3],[4.33,7.38],[9.93,7.67],[9.95,7.5],[10.94,7.41],[13.03,7.4],[12.14,7.16],[10.03,7.18],[5.62,7.18],[5.75,7.01],[5.94,7.09],[6.19,7.13],[11,6.97],[9.6,6.82],[4.92,6.92],[4.87,6.72],[4.64,6.61],[11.13,6.64],[9.18,6.58],[9.37,6.39],[9.09,6.28],[12.39,6.25],[11.53,6.23],[11.66,6.03],[10.72,5.94],[10.06,6.19],[10.2,6.1],[10.13,5.93],[10.14,5.76],[9.82,5.78],[9.6,5.69],[11.13,5.63],[11.66,5.61],[11.78,5.42],[10,5.39],[10,4.95],[9.27,5.24],[9.24,5.65],[9.02,5.53],[8.96,5.14],[8.96,4.82],[8.8,5.22],[8.63,4.97],[8.63,4.63],[8.52,4.4],[8.36,4.72],[8.1,5.1],[8.36,5.53],[7.97,4.85],[7.99,4.63],[7.76,4.2],
[7.09,7.72],[7.31,7.83],[7.53,7.89],[6.93,7.5],[6.85,7.16],[7.09,7.28],[7.53,7.6],[7.86,7.63],[8.3,7.55],[8.19,7.26],[8.57,7.38],[8.52,7.16],[8.74,7.18],[7.04,7.05],[6.98,6.82],[7.42,6.93],[7.64,7.05],[7.97,6.82],[8.19,6.93],[8.47,6.76],[8.79,6.76],[7.09,6.48],[7.31,6.7],[7.37,6.48],[7.64,6.7],[7.75,6.53],[8.52,6.48],[8.85,6.44],[8.52,6.25],[8.58,6.02],[8.63,5.8],[8.74,5.69],[8.9,5.72],[4.89,6.33],[5.24,6.36],[5.55,6.35],[5.71,6.16],[5.75,5.99],[4.78,6.16],[4.89,5.99],[5,5.88],[5.05,5.6],[5.33,6.1],[5.38,5.65],[4.67,5.42],[6.21,6.1],[6.05,5.88],[5.83,5.6],[5.94,5.42],[6.21,5.54],[6.49,5.99],[6.65,5.88],[6.43,5.54],[6.76,6.2],
[3.46,1.95],[3.6,2.05],[3.4,2.25],[3.6,2.35],[3.85,2.4],[4.1,2.3],[4.49,2.3],[3.4,2.55],[3.65,2.6],[3.9,2.6],[4.15,2.55],[4.4,2.5],[5.99,2.59],[3.4,2.8],[3.65,2.85],[3.95,2.8],[4.2,2.8],[4.5,2.75],[5.55,2.87],[3.4,3.05],[3.7,3.05],[4,3.05],[4.3,3.05],[4.6,3],[4.9,3.05],[5.8,3.2],[3.4,3.3],[3.7,3.3],[4,3.3],[4.3,3.3],[4.6,3.25],[4.9,3.3],[5.25,3.25],[5.6,3.4],[6.14,3.5],[6.49,3.68],[3.4,3.55],[3.7,3.55],[4,3.55],[4.3,3.55],[4.6,3.5],[4.9,3.55],[5.25,3.55],[5.55,3.7],[5.9,3.7],[3.55,3.8],[3.85,3.75],[4.2,3.8],[4.55,3.8],[4.85,3.8],[5.15,3.8],[5.5,3.95],[5.85,3.95],[6.2,3.9],[6.55,3.95],[6.85,3.6],[6.85,3.8],[6.85,4],[6.85,4.2],[4.5,4.05],[4.85,4.05],[5.15,4.05],[5.5,4.2],[5.85,4.2],[6.2,4.15],[6.55,4.2],[6.85,4.35],[7.15,4.3],[4.7,4.3],[5,4.3],[5.3,4.35],[5.6,4.45],[5.95,4.45],[6.3,4.4],[6.6,4.45],[6.95,4.5],[7.25,4.45],[7.55,4.35],[4.95,4.55],[5.3,4.6],[5.65,4.7],[6,4.7],[6.3,4.65],[6.65,4.7],[6.95,4.75],[7.3,4.7],[7.6,4.55],[5.25,4.85],[5.55,4.95],[5.95,4.9],[6.35,4.9],[6.65,4.95],[7,5],[7.3,4.95],[7.6,4.8],[4.6,4.75],[4.6,4.95],[4.8,5.1],[5.1,5.1],[5.4,5.2],[5.7,5.2],[6.2,5.15],[6.5,5.2],[6.8,5.25],[7.1,5.25],[7.4,5.2],[7.7,5.15],[4.55,5.2],[5,5.3],[6.5,5.45],[6.8,5.5],[7.1,5.5],[7.4,5.45],[7.7,5.45],[8,5.4],[6.6,5.75],[6.9,5.7],[7.2,5.75],[7.5,5.75],[7.8,5.7],[8.05,5.6],[7,6],[7.3,6],[7.6,6],[7.85,5.95],[8.05,5.85],[7.5,6.25],
[3.55,2.7],[3.8,2.7],[4.05,2.7],[4.3,2.65],[3.55,2.95],[3.8,2.95],[4.15,2.95],[4.4,2.9],[3.55,3.2],[3.85,3.2],[4.15,3.2],[4.45,3.15],[4.75,3.15],[3.55,3.45],[3.85,3.45],[4.15,3.45],[4.45,3.4],[4.75,3.4],[5.05,3.4],[3.7,3.7],[4,3.7],[4.35,3.65],[4.75,3.65],[5.05,3.65],[5.4,3.65],[4.4,3.95],[4.7,3.95],[5,3.95],[5.3,3.95],[5.65,3.8],[6,3.85],[6.35,3.8],[4.65,4.2],[5,4.2],[5.3,4.2],[5.7,4.05],[6,4.05],[6.35,4.05],[6.7,4.1],[4.85,4.45],[5.15,4.45],[5.45,4.45],[5.8,4.35],[6.1,4.3],[6.45,4.3],[6.75,4.3],[7.05,4.4],[7.4,4.25],[5.15,4.7],[5.45,4.75],[5.8,4.6],[6.15,4.55],[6.45,4.55],[6.8,4.6],[7.1,4.6],[7.45,4.55],[5.4,5],[5.75,4.9],[6.1,4.8],[6.5,4.8],[6.8,4.85],[7.15,4.85],[7.45,4.85],[7.75,4.7],[6.4,5.05],[6.65,5.05],[6.95,5.1],[7.25,5.1],[7.55,5],[7.85,4.95],[6.6,5.3],[6.95,5.35],[7.25,5.35],[7.55,5.3],[7.85,5.25],[6.65,5.6],[6.95,5.6],[7.25,5.6],[7.55,5.6],[7.85,5.55],[8.1,5.5],[6.8,5.85],[7.05,5.85],[7.35,5.85],[7.65,5.85],[7.9,5.8],[7.15,6.1],[7.45,6.1],[7.75,6.1],[7.3,6.35],[7.6,6.3]];
const concClumpOrange=[[6.32,4.32],[5.97,3.6],[5.74,3.51],[4.12,3.89],[5.17,4],[5.06,3.98],[4.95,3.77],[4.7,3.55],[4.78,3.38],[4.8,2.84],[4.56,2.75],[4.12,2.55],[3.44,2.07],[3.57,2.24],[3.68,2.41],[3.62,2.58],[3.68,2.81],[3.9,2.64],[4.07,2.92],[3.75,3.8],[3.95,3.78],[4.25,3.65],[3.7,3.6],[3.95,3.58],[4.2,3.55],[4.45,3.58],[3.6,3.4],[3.85,3.38],[4.1,3.4],[4.35,3.38],[4.6,3.4],[3.6,3.2],[3.9,3.2],[4.15,3.18],[4.4,3.2],[4.65,3.18],[3.7,3],[4,3],[4.25,3.02],[4.5,3],[3.85,2.75],[4.25,2.8],
[3.85,3.6],[4.1,3.65],[4.35,3.5],[3.75,3.3],[4,3.3],[4.25,3.3],[4.5,3.3],[3.75,3.1],[4,3.1],[4.3,3.1],[4.55,3.1],[4.7,3.2],[4.9,3.5],[3.85,2.9],[3.7,2.65]];

const giniClumpBlue=[[0.827,12.26],[0.765,11.22],[0.839,10.74],[0.828,10.13],[0.77,9.91],[0.659,9.73],[0.748,9.63],[0.788,9.68],[0.748,9.43],[0.835,9.24],[0.604,8.97],[0.64,9.11],[0.647,8.99],[0.672,9.08],[0.69,9.17],[0.761,8.99],[0.793,9.11],[0.64,8.81],[0.719,8.91],[0.708,8.85],[0.701,8.66],[0.769,8.68],[0.671,8.64],[0.638,8.52],[0.656,8.52],[0.605,8.43],[0.563,8.55],[0.56,8.43],[0.686,8.4],[0.699,8.3],[0.726,8.38],[0.791,8.35],[0.671,8.17],[0.5,8.23],[0.512,8.09],[0.499,7.94],[0.467,7.92],[0.712,7.98],[0.644,7.95],[0.622,8.06],[0.62,7.9],[0.611,7.83],[0.656,7.78],[0.564,7.98],[0.575,7.9],[0.557,7.81],[0.532,7.75],[0.732,7.84],[0.719,7.69],[0.735,7.69],[0.771,7.83],[0.784,7.66],[0.683,7.64],[0.669,7.44],[0.602,7.75],[0.597,7.52],[0.517,7.52],[0.508,7.47],[0.541,7.47],[0.46,7.49],[0.481,7.35],[0.638,7.39],[0.698,7.32],[0.735,7.32],[0.717,7.13],[0.677,7.24],[0.618,7.22],[0.584,7.35],[0.588,7.13],[0.422,7.15],[0.409,6.95],[0.665,6.9],[0.645,6.95],[0.629,7.01],[0.663,6.61],[0.651,6.56],[0.575,6.33],[0.737,6.13],[0.613,5.99],[0.647,5.88],[0.671,5.78],[0.569,5.82],[0.602,5.67],[0.593,5.63],[0.721,5.52],[0.627,5.4],[0.557,5.39],[0.761,5.34],[0.672,4.98],[0.517,5.31],[0.515,5.12],[0.456,4.75],[0.485,4.73],[0.494,4.47],[0.577,4.32],[0.548,4.2],[0.583,4.12],[0.409,4.4],[0.393,4.17],[0.422,3.8],[0.406,3.63],[0.409,2.83],[0.44,2.55],[0.339,3.41],[0.364,3.6],[0.298,3.4],[0.288,3.15],[0.295,3.13],[0.287,2.76],[0.305,2.8],[0.164,2.58],[0.183,2.49],[0.166,2.32],[0.085,2.27],[0.44,7.01],[0.445,6.84],[0.431,6.67],[0.467,7.24],[0.481,7.01],[0.485,7.18],[0.512,7.13],[0.517,6.84],[0.53,6.67],[0.539,7.01],[0.557,6.9],[0.566,7.01],[0.575,6.78],[0.575,6.56],[0.593,7.13],[0.611,7.35],
[0.005,1.98],[0.012,2.05],[0.02,2.1],[0.03,2.2],[0.04,2.3],[0.04,2.2],[0.05,2.4],[0.06,2.5],[0.06,2.4],[0.07,2.55],[0.08,2.7],[0.08,2.55],[0.09,2.85],[0.1,2.9],[0.1,2.7],[0.11,3],[0.12,3.1],[0.12,2.9],[0.13,3.25],[0.13,3],[0.14,3.3],[0.14,3.1],[0.144,3.6],[0.15,3.5],[0.15,3.1],[0.16,3.2],[0.16,3.45],[0.16,3.7],[0.18,3.4],[0.18,3.65],[0.18,3.85],[0.198,4.17],[0.2,3.5],[0.2,3.75],[0.2,4],[0.22,3.6],[0.22,3.85],[0.22,4.1],[0.22,4.35],[0.229,4.68],[0.24,3.7],[0.24,3.95],[0.24,4.2],[0.24,4.45],[0.24,4.7],[0.26,3.9],[0.26,4.15],[0.26,4.4],[0.26,4.65],[0.26,4.9],[0.27,5.19],[0.28,3.9],[0.28,4.15],[0.28,4.4],[0.28,4.65],[0.28,4.9],[0.28,5.15],[0.285,5.3],[0.3,4.1],[0.3,4.35],[0.3,4.6],[0.3,4.85],[0.3,5.1],[0.3,5.35],[0.3,5.55],[0.32,4.2],[0.32,4.45],[0.32,4.7],[0.32,4.95],[0.32,5.2],[0.32,5.45],[0.34,4.3],[0.34,4.55],[0.34,4.8],[0.34,5.05],[0.34,5.3],[0.34,5.55],[0.34,5.8],[0.34,6],[0.36,4.5],[0.36,4.75],[0.36,5],[0.36,5.25],[0.36,5.5],[0.36,5.75],[0.36,6],[0.365,6.2],[0.38,4.6],[0.38,4.85],[0.38,5.1],[0.38,5.35],[0.38,5.6],[0.38,5.85],[0.38,6.1],[0.4,4.8],[0.4,5.05],[0.4,5.3],[0.4,5.55],[0.4,5.8],[0.4,6.05],[0.4,6.25],[0.42,5],[0.42,5.25],[0.42,5.5],[0.42,5.75],[0.42,6],[0.42,6.25],[0.42,6.5],[0.44,5.1],[0.44,5.35],[0.44,5.6],[0.44,5.85],[0.44,6.1],[0.44,6.35],[0.46,5.2],[0.46,5.45],[0.46,5.7],[0.46,5.95],[0.46,6.2],[0.46,6.45],[0.48,5.4],[0.48,5.65],[0.48,5.9],[0.48,6.15],[0.48,6.4],[0.5,5.6],[0.5,5.85],[0.5,6.1],[0.5,6.35],[0.52,5.7],[0.52,5.95],[0.52,6.2],[0.52,6.45],[0.54,5.9],[0.54,6.15],[0.54,6.4],[0.56,6.15],[0.56,6.35],[0.56,6.6],
[0.17,3.3],[0.17,3.55],[0.17,3.8],[0.19,3.5],[0.19,3.75],[0.19,3.95],[0.21,3.6],[0.21,3.85],[0.21,4.1],[0.21,4.35],[0.23,3.75],[0.23,4],[0.23,4.25],[0.23,4.5],[0.25,3.8],[0.25,4.05],[0.25,4.3],[0.25,4.55],[0.25,4.8],[0.27,3.9],[0.27,4.15],[0.27,4.4],[0.27,4.65],[0.27,4.9],[0.27,5.1],[0.29,4],[0.29,4.25],[0.29,4.5],[0.29,4.75],[0.29,5],[0.29,5.25],[0.31,4.2],[0.31,4.45],[0.31,4.7],[0.31,4.95],[0.31,5.2],[0.31,5.45],[0.33,4.3],[0.33,4.55],[0.33,4.8],[0.33,5.05],[0.33,5.3],[0.33,5.55],[0.33,5.75],[0.35,4.4],[0.35,4.65],[0.35,4.9],[0.35,5.15],[0.35,5.4],[0.35,5.65],[0.35,5.9],[0.37,4.6],[0.37,4.85],[0.37,5.1],[0.37,5.35],[0.37,5.6],[0.37,5.85],[0.37,6.1],[0.39,4.7],[0.39,4.95],[0.39,5.2],[0.39,5.45],[0.39,5.7],[0.39,5.95],[0.39,6.2],[0.41,4.9],[0.41,5.15],[0.41,5.4],[0.41,5.65],[0.41,5.9],[0.41,6.15],[0.43,5.1],[0.43,5.35],[0.43,5.6],[0.43,5.85],[0.43,6.1],[0.43,6.35],[0.45,5.2],[0.45,5.45],[0.45,5.7],[0.45,5.95],[0.45,6.2],[0.45,6.45],[0.47,5.3],[0.47,5.55],[0.47,5.8],[0.47,6.05],[0.47,6.3],[0.49,5.5],[0.49,5.75],[0.49,6],[0.49,6.25],[0.51,5.7],[0.51,5.95],[0.51,6.2],[0.51,6.4],[0.53,5.8],[0.53,6.05],[0.53,6.3]];
const giniClumpOrange=[[0.025,2.07],[0.04,2.18],[0.063,2.3],[0.085,2.52],[0.103,2.58],[0.117,2.78],[0.126,3.06],[0.139,3.03],[0.153,2.92],[0.155,3.2],[0.171,3.15],[0.153,3.43],[0.171,3.55],[0.187,3.72],[0.198,3.72],[0.207,3.55],[0.187,3.38],[0.207,3.32],[0.189,3.15],[0.225,3.38],[0.205,2.75],[0.249,2.85],[0.229,3.86],[0.252,3.83],[0.247,3.6],[0.292,3.98],[0.323,4.32],[0.33,3.98],[0.288,3.6],[0.362,3.51],[0.247,3.26],[0.17,3.35],[0.19,3.55],[0.21,3.8],[0.135,2.85],[0.17,2.95],
[0.15,3.1],[0.165,3.3],[0.18,3.45],[0.195,3.6],[0.2,3.4],[0.215,3.65],[0.22,3.5],[0.17,3.1],[0.19,3.25],[0.205,3.1],[0.14,2.9],[0.11,2.7],[0.095,2.55],[0.075,2.4],[0.05,2.25],[0.2,3],[0.185,2.95]];

const NS="http://www.w3.org/2000/svg";
const svg=document.getElementById("chart");
const BLUE="#1f77b4";
const ORANGE="#ff7f0e";
const AXIS_COLOR="#000";

function linear(d0,p0,d1,p1){
  return function(v){return p0+(v-d0)*(p1-p0)/(d1-d0);};
}
const xEuclid=linear(0,179.5,10,328.3);
const xConc=linear(5,582,10,733.6);
const xGini=linear(0,871.7,0.5,1057.3);
const yConc=linear(5,270,10,121.7);
const yGini=linear(0,652.3,0.75,381.7);
const yClump=linear(5,894,10,747.7);

function el(tag,attrs,parent){
  const n=document.createElementNS(NS,tag);
  for(const k in attrs){n.setAttribute(k,attrs[k]);}
  parent.appendChild(n);
  return n;
}

function drawPoints(group,points,xs,ys,color,seriesName){
  points.forEach(function(p){
    const c=el("circle",{cx:xs(p[0]),cy:ys(p[1]),r:3.9,fill:color},group);
    
    
  });
}

function drawPanel(name,box,xs,ys,blue,orange,xTicks,xLabels,yTicks,yLabels){
  const g=el("g",{},svg);
  
  
  const bg=el("rect",{x:box.left,y:box.top,width:box.right-box.left,height:box.bottom-box.top,fill:"#fff"},g);
  
  
  const blueGroup=el("g",{},g);
  
  
  drawPoints(blueGroup,blue,xs,ys,BLUE,name+'-blue');
  const orangeGroup=el("g",{},g);
  
  
  drawPoints(orangeGroup,orange,xs,ys,ORANGE,name+'-orange');
  const frame=el("rect",{x:box.left,y:box.top,width:box.right-box.left,height:box.bottom-box.top,fill:"none",stroke:AXIS_COLOR,"stroke-width":2},g);
  
  
  xTicks.forEach(function(t,i){
    const px=xs(t);
    const mark=el("line",{x1:px,x2:px,y1:box.bottom,y2:box.bottom+9,stroke:AXIS_COLOR,"stroke-width":2},g);
    
    
    const lab=el("text",{x:px,y:box.bottom+49,"text-anchor":"middle","class":"tick-text"},g);
    lab.textContent=xLabels[i];
    
    
  });
  yTicks.forEach(function(t,i){
    const py=ys(t);
    const mark=el("line",{x1:box.left-9,x2:box.left,y1:py,y2:py,stroke:AXIS_COLOR,"stroke-width":2},g);
    
    
    const lab=el("text",{x:box.left-15,y:py+13,"text-anchor":"end","class":"tick-text"},g);
    lab.textContent=yLabels[i];
    
    
  });
}

function drawXTitle(text,cx,baseline,name){
  const t=el("text",{x:cx,y:baseline,"text-anchor":"middle","class":"title-text"},svg);
  t.textContent=text;
  
  
}
function drawYTitle(text,baseline,cy,name){
  const t=el("text",{x:baseline,y:cy,"text-anchor":"middle","class":"title-text",transform:"rotate(-90 "+baseline+" "+cy+")"},svg);
  t.textContent=text;
  
  
}

const col1={left:175.5,right:516};
const col2={left:516,right:858};
const col3={left:858,right:1199};
const row1={top:1,bottom:333};
const row2={top:333,bottom:665};
const row3={top:665,bottom:997};
function box(c,r){return {left:c.left,right:c.right,top:r.top,bottom:r.bottom};}

drawPanel("euclid-conc",box(col1,row1),xEuclid,yConc,euclidConcBlue,euclidConcOrange,[],[],concYTicks,concYTickLabels);
drawPanel("euclid-gini",box(col1,row2),xEuclid,yGini,euclidGiniBlue,euclidGiniOrange,[],[],giniYTicks,giniYTickLabels);
drawPanel("conc-gini",box(col2,row2),xConc,yGini,concGiniBlue,concGiniOrange,[],[],[],[]);
drawPanel("euclid-clump",box(col1,row3),xEuclid,yClump,euclidClumpBlue,euclidClumpOrange,euclidTicks,euclidTickLabels,clumpYTicks,clumpYTickLabels);
drawPanel("conc-clump",box(col2,row3),xConc,yClump,concClumpBlue,concClumpOrange,concXTicks,concXTickLabels,[],[]);
drawPanel("gini-clump",box(col3,row3),xGini,yClump,giniClumpBlue,giniClumpOrange,giniXTicks,giniXTickLabels,[],[]);

drawXTitle("Euclidean",345,1085,"x-axis-title-euclidean-line-1");
drawXTitle("norm",345,1122,"x-axis-title-euclidean-line-2");
drawXTitle("Concentration",687,1085,"x-axis-title-concentration-line-1");
drawXTitle("index",687,1122,"x-axis-title-concentration-line-2");
drawXTitle("Gini",1028,1085,"x-axis-title-gini-line-1");
drawXTitle("coefficient",1028,1122,"x-axis-title-gini-line-2");
drawYTitle("Concentration",59,167,"y-axis-title-concentration-line-1");
drawYTitle("index",100,167,"y-axis-title-concentration-line-2");
drawYTitle("Gini",27,499,"y-axis-title-gini-line-1");
drawYTitle("coefficient",66,499,"y-axis-title-gini-line-2");
drawYTitle("Clumpiness",59,831,"y-axis-title-clumpiness-line-1");
drawYTitle("index",100,831,"y-axis-title-clumpiness-line-2");
</script>
</body>
</html>
